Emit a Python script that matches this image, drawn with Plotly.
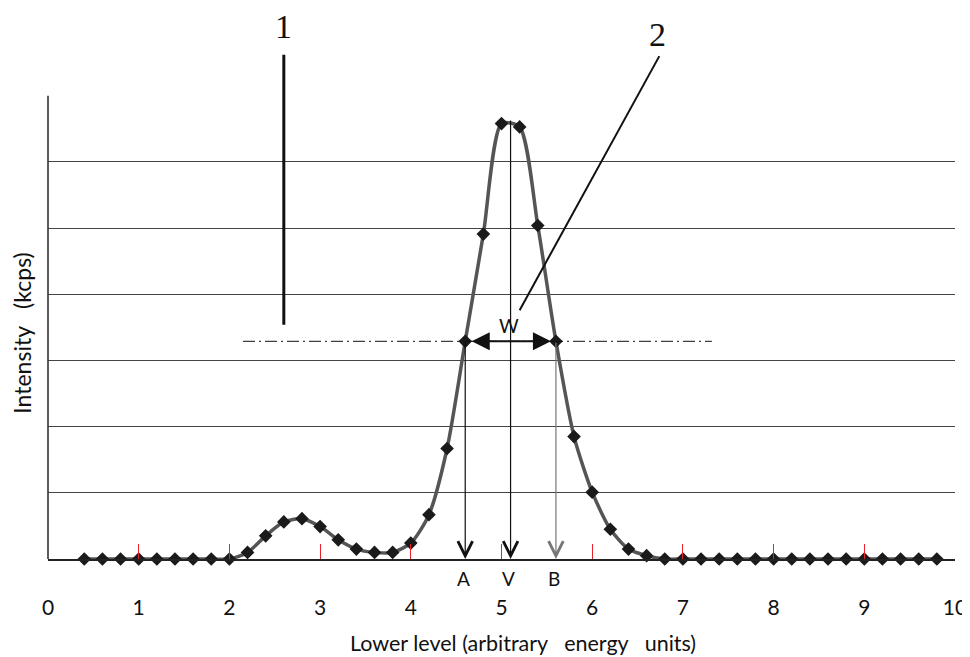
import plotly.graph_objects as go

# ---- data ----
energy = [0.4, 0.6, 0.8, 1.0, 1.2, 1.4, 1.6, 1.8, 2.0, 2.2, 2.4, 2.6, 2.8, 3.0, 3.2, 3.4,
          3.6, 3.8, 4.0, 4.2, 4.4, 4.6, 4.8, 5.0, 5.2, 5.4, 5.6, 5.8, 6.0, 6.2, 6.4, 6.6,
          6.8, 7.0, 7.2, 7.4, 7.6, 7.8, 8.0, 8.2, 8.4, 8.6, 8.8, 9.0, 9.2, 9.4, 9.6, 9.8]
intensity = [0, 0, 0, 0, 0, 0, 0, 0, 0, 0.10, 0.35, 0.56, 0.61, 0.49, 0.29, 0.15,
             0.10, 0.10, 0.24, 0.67, 1.67, 3.29, 4.91, 6.58, 6.53, 5.04, 3.29, 1.85, 1.01, 0.45, 0.15, 0.05,
             0, 0, 0, 0, 0, 0, 0, 0, 0, 0, 0, 0, 0, 0, 0, 0]
x_tick_vals = [0, 1, 2, 3, 4, 5, 6, 7, 8, 9, 10]
x_tick_text = ["0", "1", "2", "3", "4", "5", "6", "7", "8", "9", "10"]
grid_vals = [1, 2, 3, 4, 5, 6]
y_axis_top = 7

# marker positions
A_X, V_X, B_X = 4.6, 5.1, 5.6
HALF_MAX = 3.29
PEAK_TOP = 6.65
fwhm_line = [2.15, 7.32]
leader1 = dict(x=2.6, y0=3.54, y1=7.62, label_y=8.04)
leader2 = dict(x0=6.74, y0=7.60, x1=5.20, y1=3.76, label_x=6.72, label_y=7.92)

SANS = "Lato"
fig = go.Figure()

fig.add_trace(go.Scatter(
    x=energy, y=intensity, mode="lines+markers",
    line=dict(color="#555555", width=3.5, shape="spline", smoothing=0.7),
    marker=dict(symbol="diamond", size=10.5, color="#1a1a1a"),
    cliponaxis=False, showlegend=False, hoverinfo="skip",
))

shapes = []
# left axis line (0..7)
shapes.append(dict(type="line", xref="paper", x0=0, x1=0, yref="y", y0=0, y1=y_axis_top,
                   line=dict(color="#333333", width=1.6)))
# dash-dot half-maximum line
shapes.append(dict(type="line", xref="x", yref="y", x0=fwhm_line[0], x1=fwhm_line[1],
                   y0=HALF_MAX, y1=HALF_MAX,
                   line=dict(color="#111111", width=1, dash="12px,4px,2px,4px")))
# leader line 1
shapes.append(dict(type="line", xref="x", yref="y", x0=leader1["x"], x1=leader1["x"],
                   y0=leader1["y0"], y1=leader1["y1"], line=dict(color="#111111", width=3)))
# leader line 2
shapes.append(dict(type="line", xref="x", yref="y", x0=leader2["x0"], x1=leader2["x1"],
                   y0=leader2["y0"], y1=leader2["y1"], line=dict(color="#111111", width=2)))

annotations = []
# vertical arrows A, V, B
for xv, ytail, col in [(A_X, HALF_MAX, "#111111"), (V_X, PEAK_TOP, "#111111"), (B_X, HALF_MAX, "#777777")]:
    annotations.append(dict(x=xv, y=0, ax=xv, ay=ytail, xref="x", yref="y", axref="x", ayref="y",
                            text="", showarrow=True, arrowhead=5, arrowsize=2.4, arrowwidth=1.2,
                            arrowcolor=col))
for xv, lab in [(A_X, "A"), (V_X, "V"), (B_X, "B")]:
    annotations.append(dict(x=xv, y=0, xref="x", yref="y", text=lab, showarrow=False,
                            yanchor="middle", yshift=-19, xshift=-2,
                            font=dict(family=SANS, size=19, color="#111111")))
# W double arrow
annotations.append(dict(x=B_X, y=HALF_MAX, ax=A_X, ay=HALF_MAX, xref="x", yref="y", axref="x", ayref="y",
                        text="", showarrow=True, arrowside="end+start", arrowhead=2, startarrowhead=2,
                        arrowsize=1.8, startarrowsize=1.8, arrowwidth=2, arrowcolor="#111111",
                        standoff=5, startstandoff=5))
annotations.append(dict(x=V_X, y=HALF_MAX, xref="x", yref="y", text="W", showarrow=False,
                        yanchor="middle", yshift=16, xshift=-2,
                        font=dict(family=SANS, size=19, color="#111111")))
# leader labels
annotations.append(dict(x=leader1["x"], y=leader1["label_y"], xref="x", yref="y", text="1",
                        showarrow=False, yanchor="middle",
                        font=dict(family="Liberation Serif", size=34, color="#111111")))
annotations.append(dict(x=leader2["label_x"], y=leader2["label_y"], xref="x", yref="y", text="2",
                        showarrow=False, yanchor="middle",
                        font=dict(family="Liberation Serif", size=34, color="#111111")))
# axis titles
annotations.append(dict(x=5.24, y=0, xref="x", yref="paper", yshift=-84, showarrow=False,
                        xanchor="center", yanchor="middle",
                        text="Lower level (arbitrary\u00a0\u00a0\u00a0energy\u00a0\u00a0\u00a0units)",
                        font=dict(family=SANS, size=21.5, color="#111111")))
annotations.append(dict(x=-0.0287, y=3.42, xref="paper", yref="y", showarrow=False, textangle=-90,
                        xanchor="center", yanchor="middle",
                        text="Intensity\u00a0\u00a0\u00a0(kcps)",
                        font=dict(family=SANS, size=23, color="#111111")))

# page has an 8px body margin; figure is sized/offset to compensate
fig.update_layout(
    width=962, height=649,
    margin=dict(l=40, r=15, t=0, b=98),
    paper_bgcolor="white", plot_bgcolor="white",
    shapes=shapes, annotations=annotations,
    xaxis=dict(range=[0, 10], tickvals=x_tick_vals, ticktext=x_tick_text,
               ticks="inside", ticklen=15, tickwidth=1, tickcolor="#e8202a",
               showline=True, linecolor="#222222", linewidth=1.6,
               showgrid=False, zeroline=False, ticklabelstandoff=29,
               ticklabeloverflow="allow",
               tickfont=dict(family=SANS, size=21, color="#111111")),
    yaxis=dict(range=[0, 8.327], tickvals=grid_vals, showticklabels=False, ticks="",
               showgrid=True, gridcolor="#444444", gridwidth=1.2,
               showline=False, zeroline=False),
)

fig.write_html("out.html", post_script="document.body.style.overflow='hidden';")
